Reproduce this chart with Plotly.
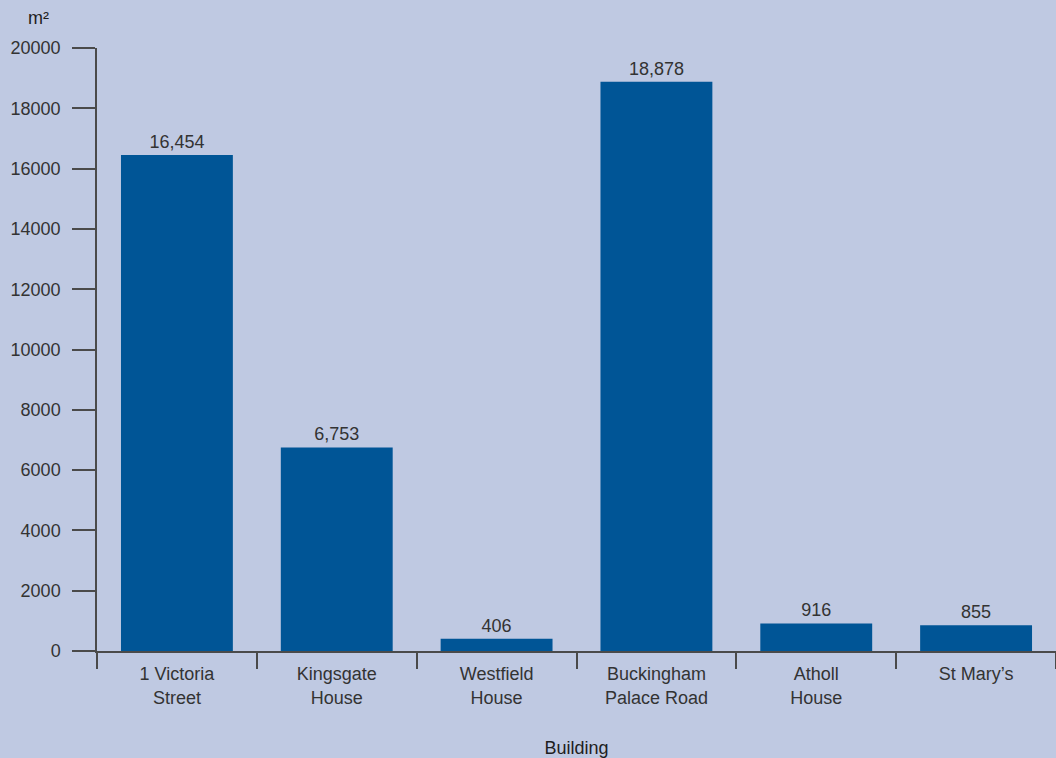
import plotly.graph_objects as go

buildings = ["1 Victoria<br>Street", "Kingsgate<br>House", "Westfield<br>House",
             "Buckingham<br>Palace Road", "Atholl<br>House", "St Mary’s"]
areas = [16454, 6753, 406, 18878, 916, 855]
y_ticks = [0, 2000, 4000, 6000, 8000, 10000, 12000, 14000, 16000, 18000, 20000]

BG = "#bfc9e2"
BAR = "#005596"
AX = "#4a4a4a"
TXT = "#333333"
FONT = "Liberation Sans, Arial, sans-serif"
FS = 18

fig = go.Figure(go.Bar(
    x=buildings, y=areas, marker_color=BAR, marker_line_width=0,
    texttemplate="%{y:,}", textposition="outside",
    textfont=dict(size=FS, color=TXT, family=FONT), cliponaxis=False,
))

fig.update_layout(
    width=1056, height=758,
    paper_bgcolor=BG, plot_bgcolor=BG,
    margin=dict(l=97, r=0, t=48, b=107),
    bargap=0.3, showlegend=False,
    font=dict(family=FONT, size=FS, color=TXT),
)
fig.update_xaxes(
    type="category", tickson="boundaries", ticks="outside", ticklen=16,
    tickcolor=AX, tickwidth=1.5, showline=True, linecolor=AX, linewidth=1.5,
    showgrid=False, tickfont=dict(size=FS, color=TXT), ticklabelstandoff=6,
    title=dict(text="Building", font=dict(size=FS, color="#1e1e1e"), standoff=35),
)
fig.update_yaxes(
    range=[0, 20000], tickvals=y_ticks, ticks="outside", ticklen=23,
    tickcolor=AX, tickwidth=1.5, showline=True, linecolor=AX, linewidth=1.5,
    showgrid=False, zeroline=False, tickformat="d", ticklabelstandoff=8,
    tickfont=dict(size=FS, color=TXT),
)
fig.add_annotation(text="m²", xref="paper", yref="paper", x=-0.0615, y=1.05,
                   xanchor="center", yanchor="middle", showarrow=False,
                   font=dict(size=FS, color="#1e1e1e"))

fig.write_html("out.html")
